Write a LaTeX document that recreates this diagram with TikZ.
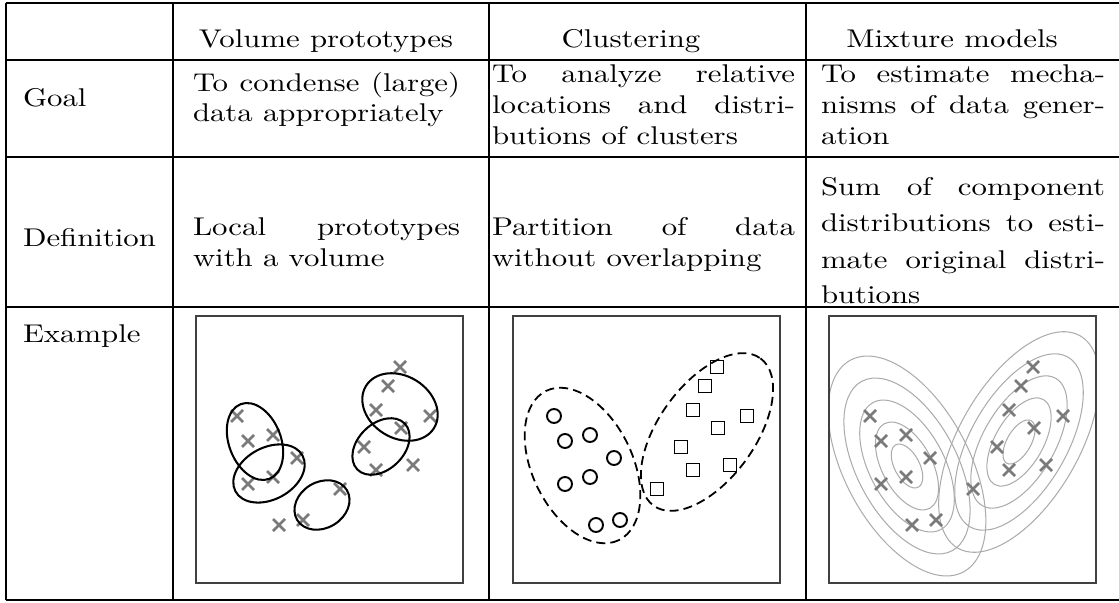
\documentclass[tikz,border=0pt]{standalone}
\usepackage{graphicx}
\newcommand\tx[1]{\scalebox{1.2}[1]{#1}}
\newcommand\tj[2]{\scalebox{1.2}[1]{\makebox[#1][s]{#2}}}
\begin{document}
\begin{tikzpicture}[x=0.39pt,y=-0.39pt,
  tline/.style={line width=0.55pt},
  lbl/.style={inner sep=0pt,outer sep=0pt,anchor=base west},
  hdr/.style={inner sep=0pt,outer sep=0pt,anchor=base},
  pbox/.style={draw=black!75,line width=0.45pt},
  xmark/.style={draw=black!52,line width=1pt},
  proto/.style={draw=black,line width=0.8pt},
  clus/.style={draw=black,line width=0.7pt,dash pattern=on 3.5pt off 2pt},
  cmark/.style={draw=black,line width=0.75pt},
  cont/.style={draw=black!33,line width=0.4pt}]
\useasboundingbox (0,0) rectangle (1119,603);
% table rules
\draw[tline] (6,3) -- (1119,3);
\draw[tline] (6,60) -- (1119,60);
\draw[tline] (6,157) -- (1119,157);
\draw[tline] (6,307) -- (1119,307);
\draw[tline] (6,600) -- (1119,600);
\draw[tline] (6,3) -- (6,600);
\draw[tline] (173,3) -- (173,600);
\draw[tline] (489,3) -- (489,600);
\draw[tline] (806,3) -- (806,600);
% header
\node[hdr] (h1) at (326,48) {\tx{Volume prototypes}};
\node[hdr] (h2) at (631,48) {\tx{Clustering}};
\node[hdr] (h3) at (952,48) {\tx{Mixture models}};
% goal row
\node[lbl] (goal) at (23,107) {\tx{Goal}};
\node[lbl] (g2a) at (193,92) {\tj{86.8pt}{To condense (large)}};
\node[lbl] (g2b) at (193,122) {\tx{data appropriately}};
\node[lbl] (g3a) at (492,83) {\tj{98.5pt}{To analyze relative}};
\node[lbl] (g3b) at (492,114) {\tj{98.5pt}{locations and distri-}};
\node[lbl] (g3c) at (492,145) {\tx{butions of clusters}};
\node[lbl] (g4a) at (821,83) {\tj{92.3pt}{To estimate mecha-}};
\node[lbl] (g4b) at (821,114) {\tj{92.3pt}{nisms of data gener-}};
\node[lbl] (g4c) at (821,145) {\tx{ation}};
% definition row
\node[lbl] (def) at (23,247) {\tx{Definition}};
\node[lbl] (d2a) at (193,236) {\tj{86.8pt}{Local prototypes}};
\node[lbl] (d2b) at (193,267) {\tx{with a volume}};
\node[lbl] (d3a) at (492,236) {\tj{98.5pt}{Partition of data}};
\node[lbl] (d3b) at (492,267) {\tx{without overlapping}};
\node[lbl] (d4a) at (821,195) {\tj{92.3pt}{Sum of component}};
\node[lbl] (d4b) at (821,232) {\tj{92.3pt}{distributions to esti-}};
\node[lbl] (d4c) at (821,269) {\tj{92.3pt}{mate original distri-}};
\node[lbl] (d4d) at (821,304) {\tx{butions}};
% example row
\node[lbl] (ex) at (23,342) {\tx{Example}};
% panel 1: volume prototypes
\begin{scope}[shift={(196,316)}]
\draw[pbox] (0,0) rectangle (267,267);
\foreach \x/\y in {41/100,52/125,77/119,101/142,52/168,77/161,83/209,107/204,
                   204/51,192/70,180/94,234/100,205/112,168/131,180/154,217/149,144/173}
  \draw[xmark] (\x-6,\y-6) -- (\x+6,\y+6) (\x-6,\y+6) -- (\x+6,\y-6);
\draw[proto,rotate around={-69:(59,125.5)}] (59,125.5) ellipse [x radius=40,y radius=26];
\draw[proto,rotate around={28:(73,157.5)}] (73,157.5) ellipse [x radius=38,y radius=26];
\draw[proto,rotate around={31:(126,189)}] (126,189) ellipse [x radius=29,y radius=23];
\draw[proto,rotate around={-32:(204,91)}] (204,91) ellipse [x radius=40,y radius=31];
\draw[proto,rotate around={44:(185,130.5)}] (185,130.5) ellipse [x radius=33,y radius=23];
\end{scope}
% panel 2: clustering
\begin{scope}[shift={(513,316)}]
\draw[pbox] (0,0) rectangle (267,267);
\foreach \x/\y in {41/100,52/125,77/119,101/142,52/168,77/161,83/209,107/204}
  \draw[cmark] (\x,\y) circle [radius=7];
\foreach \x/\y in {204/51,192/70,180/94,234/100,205/112,168/131,180/154,217/149,144/173}
  \draw[cmark] (\x-6.5,\y-6.5) rectangle (\x+6.5,\y+6.5);
\draw[clus,rotate around={-64:(69.5,149.5)}] (69.5,149.5) ellipse [x radius=83,y radius=50];
\draw[clus,rotate around={54:(194,116)}] (194,116) ellipse [x radius=91,y radius=48];
\end{scope}
% panel 3: mixture models
\begin{scope}[shift={(829,316)}]
\begin{scope}
\clip (0,0) rectangle (267,267);
\foreach \k in {1,...,5} {
  \draw[cont,rotate around={-62:(78,150)}] (78,150) ellipse [x radius=24*\k,y radius=12.5*\k];
  \draw[cont,rotate around={60:(190,126)}] (190,126) ellipse [x radius=24.5*\k,y radius=12*\k];
}
\end{scope}
\draw[pbox] (0,0) rectangle (267,267);
\foreach \x/\y in {41/100,52/125,77/119,101/142,52/168,77/161,83/209,107/204,
                   204/51,192/70,180/94,234/100,205/112,168/131,180/154,217/149,144/173}
  \draw[xmark] (\x-6,\y-6) -- (\x+6,\y+6) (\x-6,\y+6) -- (\x+6,\y-6);
\end{scope}
\end{tikzpicture}
\end{document}
